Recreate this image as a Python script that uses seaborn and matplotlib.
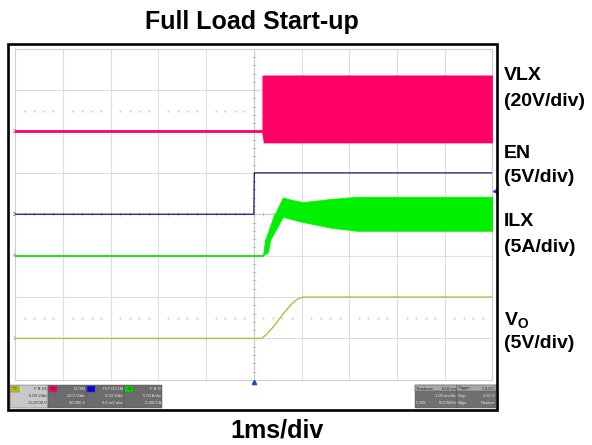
import numpy as np
import pandas as pd
import matplotlib
matplotlib.use("Agg")
import matplotlib.pyplot as plt
import seaborn as sns
from matplotlib.patches import Rectangle

# ---------------- data (time in ms, physical units) ----------------
# channel settings: (units per division, ground position in divisions)
VLX_SCALE, VLX_POS = 20.0, 2.0
EN_SCALE, EN_POS = 5.0, 0.0
ILX_SCALE, ILX_POS = 5.0, -1.0
VO_SCALE, VO_POS = 5.0, -3.0

vlx_base_t = [-5.0, 0.17]
vlx_base_v = [0.0, 0.0]
vlx_sw_t = [0.17, 0.20, 5.0]
vlx_sw_high = [27.0, 27.3, 27.3]
vlx_sw_low = [-1.0, -5.5, -5.5]

en_t = [-5.0, 0.0, 0.01, 5.0]
en_v = [0.0, 0.0, 5.0, 5.0]

ilx_base_t = [-5.0, 0.19]
ilx_base_v = [0.0, 0.0]
ilx_t = [0.19, 0.235, 0.30, 0.34, 0.41, 0.61, 0.76, 1.03, 1.6, 2.16, 5.0]
ilx_high = [0.0, 1.9, 2.9, 3.6, 4.7, 7.04, 6.78, 6.47, 6.84, 7.11, 7.11]
ilx_low = [0.0, 0.2, 0.44, 1.89, 2.6, 4.7, 4.45, 4.06, 3.39, 3.0, 3.0]

vo_t = [-5.0, 0.16, 0.25, 0.41, 0.62, 0.83, 0.95, 1.05, 5.0]
vo_v = [0.0, 0.0, 0.4, 1.4, 3.0, 4.4, 4.85, 5.0, 5.0]

labels = ["VLX", "(20V/div)", "EN", "(5V/div)", "ILX", "(5A/div)",
          r"$\mathbf{V_O}$", "(5V/div)"]
title = "Full Load Start-up"
xlabel = "1ms/div"

C_PINK, C_NAVY, C_GREEN, C_YEL = "#ff0066", "#1c1c80", "#00f000", "#bdb940"

# ---------------- figure ----------------
sns.set_style("white")
plt.rcParams["font.family"] = ["Liberation Sans", "DejaVu Sans"]
plt.rcParams["text.color"] = "black"
plt.rcParams["mathtext.fontset"] = "custom"
plt.rcParams["mathtext.rm"] = "Liberation Sans"
plt.rcParams["mathtext.bf"] = "Liberation Sans:bold"

W, H = 592, 445
fig = plt.figure(figsize=(W / 100, H / 100), dpi=100)

def fx(px):
    return px / W

def fy(py):
    return 1 - py / H

gl, gr, gt, gb = 15.3, 492.4, 48.7, 379.8
ax = fig.add_axes([fx(gl), fy(gb), fx(gr) - fx(gl), fy(gt) - fy(gb)])
ax.set_xlim(-5, 5)
ax.set_ylim(-4, 4)
ax.set_xticks(np.arange(-5, 6, 1))
ax.set_yticks(np.arange(-4, 5, 1))
ax.tick_params(length=0, labelbottom=False, labelleft=False)
ax.grid(True, color="#dedede", lw=0.8)
for s in ax.spines.values():
    s.set_color("#d0d0d0")
    s.set_linewidth(0.8)

# center axes with minor ticks
ax.axvline(0, color="#cacaca", lw=0.8, zorder=1)
ax.axhline(0, color="#cacaca", lw=0.8, zorder=1)
mx = np.arange(-5, 5.001, 0.2)
my = np.arange(-4, 4.001, 0.2)
ax.plot(mx, np.zeros_like(mx), ls="none", marker="|", ms=2.2, mew=0.5, color="#b4b4b4", zorder=1)
ax.plot(np.zeros_like(my), my, ls="none", marker="_", ms=2.2, mew=0.5, color="#b4b4b4", zorder=1)
# dotted reference rows
dx = np.array([v for v in np.arange(-4.8, 5.0, 0.2) if abs(v - round(v)) > 0.05])
for yy in (2.5, -2.5):
    ax.plot(dx, np.full_like(dx, yy), ls="none", marker="s", ms=0.6, color="#d4d4d4", zorder=1)

def scr(vals, scale, pos):
    return np.asarray(vals) / scale + pos

# VLX
sns.lineplot(x=vlx_base_t, y=scr(vlx_base_v, VLX_SCALE, VLX_POS), ax=ax, color=C_PINK,
             lw=2.0, estimator=None, sort=False, legend=False, zorder=5)
ax.fill_between(vlx_sw_t, scr(vlx_sw_low, VLX_SCALE, VLX_POS), scr(vlx_sw_high, VLX_SCALE, VLX_POS),
                color=C_PINK, lw=0, zorder=5)
# EN
sns.lineplot(x=en_t, y=scr(en_v, EN_SCALE, EN_POS), ax=ax, color=C_NAVY,
             lw=0.9, estimator=None, sort=False, legend=False, zorder=5)
# ILX
sns.lineplot(x=ilx_base_t, y=scr(ilx_base_v, ILX_SCALE, ILX_POS), ax=ax, color="#20e020",
             lw=1.4, estimator=None, sort=False, legend=False, zorder=5)
ax.fill_between(ilx_t, scr(ilx_low, ILX_SCALE, ILX_POS), scr(ilx_high, ILX_SCALE, ILX_POS),
                color=C_GREEN, lw=0.5, edgecolor=C_GREEN, zorder=5)
# VO
sns.lineplot(x=vo_t, y=scr(vo_v, VO_SCALE, VO_POS), ax=ax, color=C_YEL,
             lw=1.0, estimator=None, sort=False, legend=False, zorder=5)
ax.set_xlabel("")
ax.set_ylabel("")

# channel ground markers
for num, pos, col in (("2", VLX_POS, C_PINK), ("3", EN_POS, "#3030a0"),
                      ("4", ILX_POS, "#30c030"), ("1", VO_POS, "#a8a430")):
    ax.text(-5.0, pos, num, fontsize=3.5, color=col, ha="right", va="center",
            clip_on=False, zorder=6)
# trigger markers
ax.plot([0], [-4.06], marker="^", ms=3, color="#2040d0", clip_on=False, zorder=6)
ax.plot([5.06], [0.56], marker="<", ms=3, color="#2040d0", clip_on=False, zorder=6)

# outer frame
fig.patches.append(Rectangle((fx(7.5), fy(409.5)), fx(497) - fx(7.5), fy(43.5) - fy(409.5),
                             transform=fig.transFigure, fill=False, ec="black", lw=1.9, zorder=10))

# info bar
def box(x0, x1, y0, y1, fc):
    fig.patches.append(Rectangle((fx(x0), fy(y1)), fx(x1) - fx(x0), fy(y0) - fy(y1),
                                 transform=fig.transFigure, fc=fc, ec="#505050", lw=0.3, zorder=9))

chan_boxes = [
    (10, 48, "#c8c8c8", "#c8c800", "C1", ["F B D1", "5.00 V/div", "-15.0000 V"], "#303030"),
    (48, 86, "#6c6c6c", "#ff0066", "C2", ["DC1M", "20.0 V/div", "40.000 V"], "#e8e8e8"),
    (86, 124, "#6c6c6c", "#0000ff", "C3", ["FLT DC1M", "5.00 V/div", "0.0 mV ofst"], "#e8e8e8"),
    (124, 162, "#6c6c6c", "#00e000", "C4", ["F B D", "5.00 A/div", "-5.0000 A"], "#e8e8e8"),
]
for x0, x1, fc, tc, tag, lines, txc in chan_boxes:
    box(x0, x1, 385, 408, fc)
    box(x0 + 1, x0 + 9, 386, 392, tc)
    fig.text(fx(x0 + 5), fy(389), tag, fontsize=2.8, ha="center", va="center", color="#202020", zorder=11)
    for i, ln in enumerate(lines):
        fig.text(fx(x1 - 1), fy(389 + 7 * i), ln, fontsize=3.0, ha="right", va="center",
                 color=txc, zorder=11)

box(415, 457, 385, 408, "#707070")
box(415, 457, 385, 391, "#a8a8a8")
fig.text(fx(416), fy(388.5), "Timebase", fontsize=3.0, ha="left", va="center", color="#202020", zorder=11)
fig.text(fx(456), fy(388.5), "0.00 ms", fontsize=3.0, ha="right", va="center", color="#202020", zorder=11)
fig.text(fx(456), fy(396), "1.00 ms/div", fontsize=3.0, ha="right", va="center", color="#e8e8e8", zorder=11)
fig.text(fx(416), fy(403), "5 MS", fontsize=3.0, ha="left", va="center", color="#e8e8e8", zorder=11)
fig.text(fx(456), fy(403), "500 MS/s", fontsize=3.0, ha="right", va="center", color="#e8e8e8", zorder=11)
box(457, 496, 385, 408, "#707070")
box(457, 496, 385, 391, "#a8a8a8")
fig.text(fx(458), fy(388.5), "Trigger", fontsize=3.0, ha="left", va="center", color="#202020", zorder=11)
fig.text(fx(495), fy(388.5), "C3 DC", fontsize=3.0, ha="right", va="center", color="#202020", zorder=11)
fig.text(fx(458), fy(396), "Stop", fontsize=3.0, ha="left", va="center", color="#e8e8e8", zorder=11)
fig.text(fx(495), fy(396), "2.65 V", fontsize=3.0, ha="right", va="center", color="#e8e8e8", zorder=11)
fig.text(fx(458), fy(403), "Edge", fontsize=3.0, ha="left", va="center", color="#e8e8e8", zorder=11)
fig.text(fx(495), fy(403), "Positive", fontsize=3.0, ha="right", va="center", color="#e8e8e8", zorder=11)

# titles and labels
fig.text(fx(251.7), fy(22), title, fontsize=18, fontweight="bold", ha="center", va="center", color="black")
fig.text(fx(277.5), fy(431), xlabel, fontsize=18, fontweight="bold", ha="center", va="center", color="black")
label_y = [75.5, 101.5, 154, 178, 221, 247, 320, 344]
for txt, yy in zip(labels, label_y):
    fig.text(fx(504), fy(yy), txt, fontsize=14, fontweight="bold", ha="left", va="center", color="black")

fig.savefig("out.png", dpi=100)
